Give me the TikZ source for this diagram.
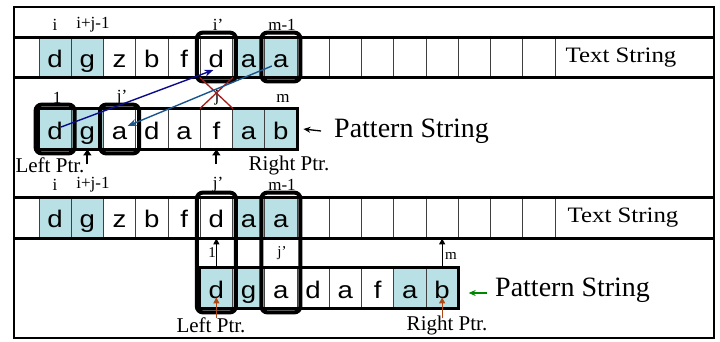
\documentclass[tikz,border=0pt]{standalone}
\usepackage{fontspec}
\setmainfont{Liberation Serif}
\setsansfont{Liberation Sans}
\usetikzlibrary{arrows.meta,fit,calc}
\definecolor{cellteal}{RGB}{185,224,228}
\definecolor{navyline}{RGB}{10,10,140}
\definecolor{steelline}{RGB}{25,85,140}
\definecolor{crossred}{RGB}{165,25,25}
\definecolor{ptrbrown}{RGB}{175,70,20}
\definecolor{ptrgreen}{RGB}{0,135,0}
\newcommand{\wide}[1]{\scalebox{1.15}[1]{#1}}
\begin{document}
\begin{tikzpicture}[x=1pt,y=-1pt,
  cell/.style={draw=black!75,line width=0.8pt,minimum width=32.25pt,minimum height=40pt,
    inner sep=0pt,text height=22pt,text depth=2pt,font=\sffamily\fontsize{24}{24}\selectfont},
  rowline/.style={line width=3pt},
  boldbox/.style={draw,line width=4pt,rounded corners=6pt,inner xsep=3pt,inner ysep=4pt},
  idx/.style={inner sep=0pt,font=\fontsize{17}{17}\selectfont},
  smallidx/.style={inner sep=0pt,font=\fontsize{15}{15}\selectfont},
  ptrlabel/.style={inner sep=0pt,font=\fontsize{21}{21}\selectfont},
  strlabel/.style={inner sep=0pt,font=\fontsize{22}{22}\selectfont},
  patlabel/.style={inner sep=0pt,font=\fontsize{28}{28}\selectfont},
  ptrup/.style={line width=2.2pt,-{Triangle[length=6pt,width=8pt]}},
  thinup/.style={line width=1.1pt,-{Triangle[length=6pt,width=6pt]}},
  brownup/.style={ptrbrown,line width=1.1pt,-{Triangle[length=6pt,width=6pt]}},
  linkarrow/.style={line width=1.4pt,-{Stealth[length=9pt,width=7pt]}},
  crossline/.style={crossred,line width=1.3pt}]
\useasboundingbox (0,0) rectangle (720,341);

% outer frame
\draw[line width=2pt] (14,7) rectangle (714,338);

% ---------- upper half: text string ----------
\foreach \k/\ch/\f in {0/d/cellteal,1/g/cellteal,2/z/white,3/b/white,4/f/white,5/d/white,6/a/cellteal,7/a/cellteal}
  \node[cell,fill=\f] (ta-\k) at ({39+32.25*(\k+0.5)},57) {\wide{\ch}};
\foreach \k in {8,...,15}
  \node[cell] (ta-\k) at ({39+32.25*(\k+0.5)},57) {};
\draw[rowline] (14,37) -- (714,37);
\draw[rowline] (14,77) -- (714,77);
\node[strlabel] (tsa) at (621,58) {\scalebox{1.13}[1]{Text String}};

\node[idx] at (55,25) {i};
\node[idx] at (93,25) {i+j-1};
\node[idx] at (218,25) {i’};
\node[idx] at (282,25) {m-1};

% ---------- upper half: pattern string ----------
\foreach \k/\ch/\f in {0/d/cellteal,1/g/cellteal,2/a/white,3/d/white,4/a/white,5/f/white,6/a/cellteal,7/b/cellteal}
  \node[cell,fill=\f] (p1-\k) at ({39+32.25*(\k+0.5)},129) {\wide{\ch}};
\draw[line width=2.5pt] (p1-0.north west) rectangle (p1-7.south east);

\node[idx] at (57,98) {1};
\node[idx] at (122,98) {j’};
\node[idx] at (217,98) {j};
\node[idx] at (283,98) {m};

\node[boldbox,fit=(ta-5)] (ba-5) {};
\node[boldbox,fit=(ta-7)] (ba-7) {};
\node[boldbox,fit=(p1-0)] (bp-0) {};
\node[boldbox,fit=(p1-2)] (bp-2) {};

% mismatch cross and shift links
\draw[crossline] (p1-5.north west) -- (ta-5.south east);
\draw[crossline] (p1-5.north east) -- (ta-5.south west);
\draw[linkarrow,navyline] ($(p1-0.center)+(6,-2)$) -- ($(ta-5.center)+(-3,13)$);
\draw[linkarrow,steelline] ($(ta-7.center)+(-9,9)$) -- ($(p1-2.center)+(8,-3)$);

% pointers
\coordinate (lpa) at ($(p1-1.south)+(0,15)$);
\coordinate (rpa) at ($(p1-5.south)+(0,15)$);
\draw[ptrup] (lpa) -- (p1-1.south);
\draw[ptrup] (rpa) -- (p1-5.south);
\node[ptrlabel] at (50,165) {Left Ptr.};
\node[ptrlabel] at (289,165) {Right Ptr.};

\node[patlabel,anchor=west] (psa) at (334,131) {Pattern String};
\coordinate (psatail) at (321,131);
\draw[line width=1.3pt,-{Stealth[length=7pt,width=6pt]}] (psatail) -- ($(p1-7.east)+(6,0)$);

% ---------- lower half: text string ----------
\foreach \k/\ch/\f in {0/d/cellteal,1/g/cellteal,2/z/white,3/b/white,4/f/white,5/d/white,6/a/cellteal,7/a/cellteal}
  \node[cell,fill=\f,minimum height=41pt] (tb-\k) at ({39+32.25*(\k+0.5)},217.5) {\wide{\ch}};
\foreach \k in {8,...,15}
  \node[cell,minimum height=41pt] (tb-\k) at ({39+32.25*(\k+0.5)},217.5) {};
\draw[rowline] (14,197) -- (714,197);
\draw[rowline] (14,238) -- (714,238);
\node[strlabel] (tsb) at (623,218) {\scalebox{1.13}[1]{Text String}};

\node[idx] at (55,185) {i};
\node[idx] at (93,185) {i+j-1};
\node[idx] at (218,185) {j’};
\node[idx] at (282,185) {m-1};

% ---------- lower half: shifted pattern string ----------
\foreach \k/\ch/\f in {5/d/cellteal,6/g/cellteal,7/a/white,8/d/white,9/a/white,10/f/white,11/a/cellteal,12/b/cellteal}
  \node[cell,fill=\f] (p2-\k) at ({39+32.25*(\k+0.5)},288) {\wide{\ch}};
\draw[line width=2.5pt] (p2-5.north west) rectangle (p2-12.south east);

\node[smallidx] at (212,253) {1};
\node[smallidx] at (282,253) {j’};
\node[smallidx] at (451,256) {m};

\draw[thinup] (p2-5.north) -- (tb-5.south);
\draw[thinup] (p2-12.north) -- (tb-12.south);

\node[boldbox,fit=(tb-5)(p2-5)] (bb-5) {};
\node[boldbox,fit=(tb-7)(p2-7)] (bb-7) {};

\coordinate (lpb) at ($(p2-5.south)+(0,10)$);
\coordinate (rpb) at ($(p2-12.south)+(0,10)$);
\draw[brownup] (lpb) -- ($(p2-5.south)+(0,-11)$);
\draw[brownup] (rpb) -- ($(p2-12.south)+(0,-11)$);
\node[ptrlabel] at (211,325) {Left Ptr.};
\node[ptrlabel] at (447,325) {Right Ptr.};

\node[patlabel,anchor=west] (psb) at (495,290) {Pattern String};
\coordinate (psbtail) at (487,293);
\draw[ptrgreen,line width=1.3pt,-{Stealth[length=7pt,width=6pt]}] (psbtail) -- ($(p2-12.east)+(10,5)$);
\end{tikzpicture}
\end{document}
